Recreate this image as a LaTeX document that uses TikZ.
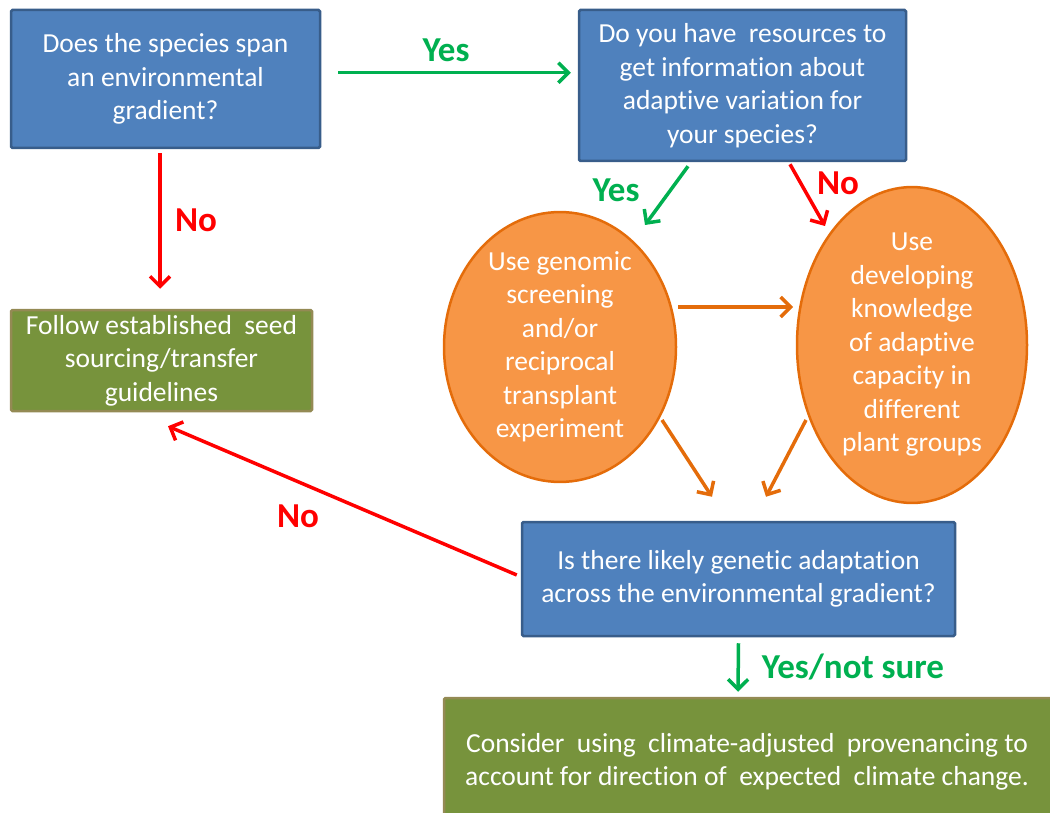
\documentclass[tikz,border=0pt]{standalone}
\usepackage{fontspec}
\setmainfont[Ligatures=NoCommon]{Carlito}
\usetikzlibrary{arrows.meta,calc,shapes.geometric}
\definecolor{bfill}{HTML}{4F81BD}
\definecolor{bdraw}{HTML}{385D8A}
\definecolor{gfill}{HTML}{77933C}
\definecolor{gdraw}{HTML}{948A54}
\definecolor{ofill}{HTML}{F79646}
\definecolor{odraw}{HTML}{E46C0A}
\definecolor{yesgreen}{HTML}{00B050}
\definecolor{nored}{HTML}{FF0000}
\tikzset{
  body/.style={text=white,align=center,inner sep=0pt,font=\fontsize{27.5}{33.5}\selectfont},
  bluebox/.style={body,rectangle,fill=bfill,draw=bdraw,line width=2.5pt,rounded corners=1.5pt},
  greenbox/.style={body,rectangle,fill=gfill,draw=gdraw,line width=2.5pt,rounded corners=1.5pt},
  orangeell/.style={body,ellipse,fill=ofill,draw=odraw,line width=2.5pt},
  arr/.style={line width=3.5pt,-{Straight Barb[length=10pt,width=20pt,line width=3.5pt]}},
  yesarr/.style={arr,draw=yesgreen},
  noarr/.style={arr,draw=nored},
  oarr/.style={arr,draw=odraw},
  yeslab/.style={text=yesgreen,font=\fontsize{35}{40}\selectfont\bfseries},
  nolab/.style={text=nored,font=\fontsize{35}{40}\selectfont\bfseries},
}
\begin{document}
\begin{tikzpicture}[x=1pt,y=-1pt]
\useasboundingbox (0,0) rectangle (1050,813);
\node[bluebox,minimum width=309pt,minimum height=138pt] (A) at (165.5,79)
  {Does the species span\\an environmental\\gradient?};
\node[bluebox,minimum width=327pt,minimum height=151pt] (B) at (742.5,85.5)
  {Do you have\ \ resources to\\get information about\\adaptive variation for\\your species?};
\node[greenbox,minimum width=301pt,minimum height=101pt] (L) at (161.5,360.5)
  {Follow established\ \ seed\\sourcing/transfer\\guidelines};
\node[orangeell,minimum width=232pt,minimum height=250pt] (E1) at (560,347)
  {Use genomic\\screening\\and/or\\reciprocal\\transplant\\experiment};
\node[orangeell,minimum width=230pt,minimum height=276pt] (E2) at (912,345)
  {Use\\developing\\knowledge\\of adaptive\\capacity in\\different\\plant groups};
\node[bluebox,minimum width=433pt,minimum height=114pt] (C) at (738.5,579)
  {Is there likely genetic adaptation\\across the environmental gradient?};
\node[greenbox,minimum width=616pt,minimum height=132pt] (G) at (752,764)
  {};
\node[body] (Gt) at (747,762)
  {Consider\ \ using\ \ climate-adjusted\ \ provenancing to\\account for direction of\ \ expected\ \ climate change.};

\draw[yesarr] ($(A.north east)+(17,64)$) -- ($(B.north west)+(-7,64)$);
\node[yeslab] (y1) at (446,50) {Yes};
\draw[noarr] ($(A.south)+(-5.5,4)$) -- ($(L.north)+(-1.5,-20)$);
\node[nolab] (n1) at (196,220) {No};
\draw[yesarr] ($(B.south)+(-54.5,4)$) -- ($(E1.center)+(85,-122)$);
\node[yeslab] (y2) at (616,190) {Yes};
\draw[noarr] ($(B.south)+(47.5,2)$) -- ($(E2.center)+(-87,-119)$);
\node[nolab] (n2) at (838,183) {No};
\draw[oarr] ($(E1.center)+(118,-40)$) -- ($(E2.center)+(-119,-38)$);
\draw[oarr] ($(E1.center)+(102,73)$) -- ($(C.north)+(-26.5,-24)$);
\draw[oarr] ($(E2.center)+(-106,75)$) -- ($(C.north)+(27.5,-24)$);
\draw[noarr] ($(C.west)+(-4,-4)$) -- ($(L.south)+(6.5,14)$);
\node[nolab] (n3) at (298,516) {No};
\draw[yesarr] ($(C.south)+(0,6)$) -- ($(G.north)+(-14,-5)$);
\node[yeslab] (y3) at (853,667) {Yes/not sure};
\end{tikzpicture}
\end{document}
